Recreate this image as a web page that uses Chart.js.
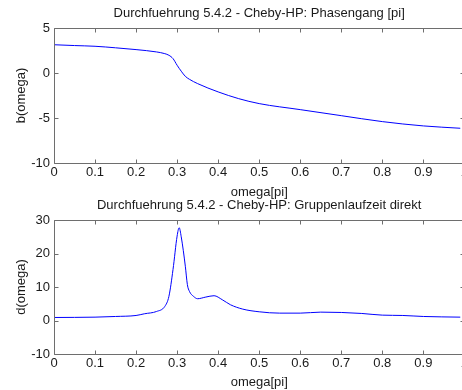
<!DOCTYPE html>
<html>
<head>
<meta charset="utf-8">
<script src="https://cdn.jsdelivr.net/npm/chart.js@4.4.1/dist/chart.umd.min.js"></script>
<style>
  html, body { margin: 0; padding: 0; background: #fff; }
  #wrap { position: relative; width: 462px; height: 390px; overflow: hidden; }
  canvas { position: absolute; left: 0; }
</style>
</head>
<body>
<div id="wrap">
  <canvas id="phase" width="470" height="200" style="top:0"></canvas>
  <canvas id="delay" width="470" height="198" style="top:192px"></canvas>
</div>
<script>
// Phasengang b(omega), omega in [pi]
var omegaPhase = [0, 0.05, 0.1, 0.15, 0.2, 0.25, 0.27, 0.28, 0.29, 0.30, 0.31, 0.32, 0.33, 0.35, 0.4, 0.45, 0.5, 0.6, 0.7, 0.8, 0.9, 0.99];
var phase      = [3.14, 3.05, 2.97, 2.8, 2.6, 2.34, 2.15, 1.97, 1.6, 0.86, 0.2, -0.37, -0.7, -1.18, -2.1, -2.85, -3.4, -4.07, -4.74, -5.4, -5.88, -6.14];

// Gruppenlaufzeit d(omega)
var omegaDelay = [0, 0.1, 0.15, 0.2, 0.22, 0.25, 0.27, 0.28, 0.29, 0.3, 0.305, 0.31, 0.32, 0.325, 0.33, 0.34, 0.35, 0.37, 0.39, 0.41, 0.43, 0.46, 0.5, 0.55, 0.6, 0.65, 0.7, 0.75, 0.8, 0.85, 0.9, 0.99];
var delay      = [0.9, 1.0, 1.2, 1.5, 2.0, 2.7, 4.2, 7.2, 15.2, 25.2, 27.7, 25, 16.2, 10.7, 8.7, 7.2, 6.5, 7.0, 7.4, 6.2, 4.7, 3.4, 2.6, 2.2, 2.2, 2.5, 2.4, 2.1, 1.6, 1.5, 1.2, 1.0];

var xTicks = [0, 0.1, 0.2, 0.3, 0.4, 0.5, 0.6, 0.7, 0.8, 0.9, 1];

Chart.defaults.font.family = '"Liberation Sans", Arial, sans-serif';
Chart.defaults.font.size = 13;
Chart.defaults.color = '#1a1a1a';

// matlab style: box round the axes, ticks pointing inwards
var boxPlugin = {
  id: 'matlabBox',
  afterDraw: function (chart) {
    var ctx = chart.ctx, a = chart.chartArea, x = chart.scales.x, y = chart.scales.y;
    var l = Math.round(a.left) + 0.5, t0 = Math.round(a.top) + 0.5;
    var r = Math.round(a.right) + 0.5, b = Math.round(a.bottom) + 0.5;
    ctx.save();
    ctx.strokeStyle = '#6e6e6e';
    ctx.lineWidth = 1;
    ctx.beginPath();
    ctx.rect(l, t0, r - l, b - t0);
    x.ticks.forEach(function (t) {
      var px = Math.round(x.getPixelForValue(t.value)) + 0.5;
      ctx.moveTo(px, t0); ctx.lineTo(px, t0 + 4);
      ctx.moveTo(px, b); ctx.lineTo(px, b - 4);
    });
    y.ticks.forEach(function (t) {
      var py = Math.round(y.getPixelForValue(t.value)) + 0.5;
      ctx.moveTo(l, py); ctx.lineTo(l + 4, py);
      ctx.moveTo(r, py); ctx.lineTo(r - 4, py);
    });
    ctx.stroke();
    ctx.restore();
  }
};

function toPoints(xs, ys) {
  return xs.map(function (v, i) { return { x: v, y: ys[i] }; });
}

function makePlot(id, title, yLabel, xs, ys, yMin, yMax, yStep, xAxisHeight) {
  return new Chart(document.getElementById(id).getContext('2d'), {
    type: 'line',
    data: {
      datasets: [{
        data: toPoints(xs, ys),
        borderColor: '#0000ff',
        borderWidth: 1,
        pointRadius: 0,
        cubicInterpolationMode: 'monotone',
        fill: false
      }]
    },
    options: {
      responsive: false,
      animation: false,
      devicePixelRatio: 1,
      layout: { padding: { left: 0, right: 5, top: 0, bottom: 0 } },
      plugins: {
        legend: { display: false },
        tooltip: { enabled: false },
        title: {
          display: true,
          text: title,
          fullSize: false,
          color: '#1a1a1a',
          font: { size: 13, weight: 'normal' },
          padding: { top: 6, bottom: 6.4 }
        }
      },
      scales: {
        x: {
          type: 'linear',
          min: 0,
          max: 1,
          afterBuildTicks: function (s) { s.ticks = xTicks.map(function (v) { return { value: v }; }); },
          afterFit: function (s) { s.height = xAxisHeight; },
          grid: { display: false, drawTicks: false },
          border: { display: false },
          ticks: {
            padding: 2,
            maxRotation: 0,
            autoSkip: false,
            callback: function (v) { return String(+v.toFixed(1)); }
          },
          title: { display: true, text: 'omega[pi]', padding: { top: 0, bottom: 0 } }
        },
        y: {
          min: yMin,
          max: yMax,
          afterFit: function (s) { s.width = 54; },
          grid: { display: false, drawTicks: false },
          border: { display: false },
          ticks: { stepSize: yStep, padding: 4 },
          title: { display: true, text: yLabel, padding: { top: 14, bottom: 0 } }
        }
      }
    },
    plugins: [boxPlugin]
  });
}

makePlot('phase', 'Durchfuehrung 5.4.2 - Cheby-HP: Phasengang [pi]', 'b(omega)',
  omegaPhase, phase, -10, 5, 5, 37);
makePlot('delay', 'Durchfuehrung 5.4.2 - Cheby-HP: Gruppenlaufzeit direkt', 'd(omega)',
  omegaDelay, delay, -10, 30, 10, 36);
</script>
</body>
</html>
